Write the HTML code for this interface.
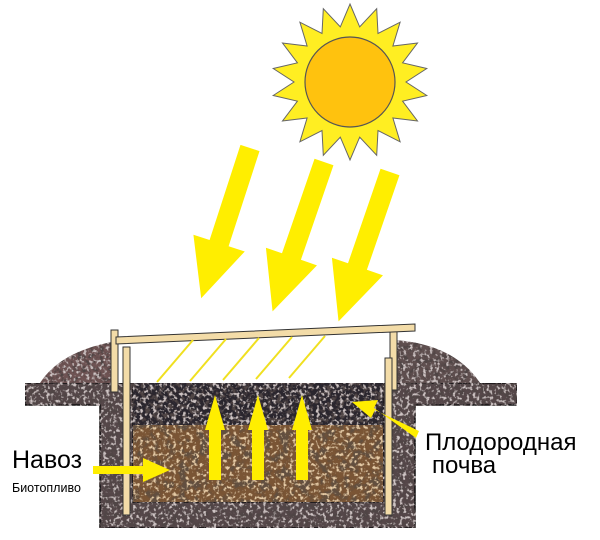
<!DOCTYPE html>
<html><head><meta charset="utf-8"><style>
html,body{margin:0;padding:0;background:#fff;width:600px;height:540px;overflow:hidden}
svg{display:block}
text{font-family:"Liberation Sans",sans-serif}
</style></head><body>
<svg width="600" height="540" viewBox="0 0 600 540">
<defs>
<filter id="tx" x="0" y="0" width="100%" height="100%">
<feTurbulence type="fractalNoise" baseFrequency="0.22" numOctaves="2" seed="3" result="n"/>
<feColorMatrix in="n" type="matrix" values="0 0 0 0 0.08  0 0 0 0 0.06  0 0 0 0 0.06  0 0 0 -5 2.6" result="m"/>
<feComposite in="m" in2="SourceGraphic" operator="in" result="d"/>
<feTurbulence type="fractalNoise" baseFrequency="0.3" numOctaves="2" seed="9" result="n2"/>
<feColorMatrix in="n2" type="matrix" values="0 0 0 0 0.62  0 0 0 0 0.55  0 0 0 0 0.55  0 0 0 -5 2.3" result="m2"/>
<feComposite in="m2" in2="SourceGraphic" operator="in" result="d2"/>
<feMerge><feMergeNode in="SourceGraphic"/><feMergeNode in="d"/><feMergeNode in="d2"/></feMerge>
</filter>
<filter id="tx2" x="0" y="0" width="100%" height="100%">
<feTurbulence type="fractalNoise" baseFrequency="0.1" numOctaves="3" seed="5" result="n"/>
<feColorMatrix in="n" type="matrix" values="0 0 0 0 0.12  0 0 0 0 0.08  0 0 0 0 0.05  0 0 0 -5 2.7" result="m"/>
<feComposite in="m" in2="SourceGraphic" operator="in" result="d"/>
<feTurbulence type="fractalNoise" baseFrequency="0.3" numOctaves="2" seed="2" result="n2"/>
<feColorMatrix in="n2" type="matrix" values="0 0 0 0 0.8  0 0 0 0 0.6  0 0 0 0 0.38  0 0 0 -5 2.3" result="m2"/>
<feComposite in="m2" in2="SourceGraphic" operator="in" result="d2"/>
<feMerge><feMergeNode in="SourceGraphic"/><feMergeNode in="d"/><feMergeNode in="d2"/></feMerge>
</filter>
<g id="sa"><polygon points="-10,0 10,0 10,100 27,100 0,158 -27,100 -10,100"/></g>
</defs>
<!-- mounds -->
<path d="M40,383 Q60,352 112,342 L112,383 Z" fill="#6e5352" filter="url(#tx)"/>
<path d="M396,340 Q455,345 480,383 L396,383 Z" fill="#5e5050" filter="url(#tx)"/>
<!-- ground -->
<path d="M25,383 L133,383 L133,502 L383,502 L383,383 L517,383 L517,405 L415,405 L415,528 L100,528 L100,405 L25,405 Z" fill="#54474a" stroke="#111" stroke-width="1.5" filter="url(#tx)"/>
<rect x="133" y="383" width="250" height="42" fill="#2a282f" filter="url(#tx)"/>
<rect x="133" y="425" width="250" height="77" fill="#7a5434" filter="url(#tx2)"/>
<!-- posts -->
<rect x="111" y="330" width="7" height="62" fill="#f3dca8" stroke="#333" stroke-width="1"/>
<rect x="123" y="347" width="7" height="168" fill="#f3dca8" stroke="#333" stroke-width="1"/>
<rect x="390" y="327" width="7" height="63" fill="#f3dca8" stroke="#333" stroke-width="1"/>
<rect x="385" y="358" width="7" height="157" fill="#f3dca8" stroke="#333" stroke-width="1"/>
<polygon points="116,337 415,324 415,331 116,344" fill="#f3dca8" stroke="#333" stroke-width="1"/>
<!-- small arrows -->
<g stroke="#f0e020" stroke-width="2" fill="none">
<line x1="193" y1="340" x2="157" y2="382"/><line x1="226" y1="339" x2="190" y2="381"/>
<line x1="259" y1="338" x2="223" y2="380"/><line x1="292" y1="337" x2="256" y2="379"/>
<line x1="325" y1="336" x2="289" y2="378"/>
</g>
<!-- sun -->
<g transform="translate(350,82)">
<polygon id="rays" fill="#ffee22" stroke="#666" stroke-width="1" points=""/>
<circle r="45" fill="#ffc20e" stroke="#555" stroke-width="1.2"/>
</g>
<!-- big arrows -->
<g fill="#ffee00">
<use href="#sa" transform="translate(250,148) rotate(18)"/>
<use href="#sa" transform="translate(324,162) rotate(19)"/>
<use href="#sa" transform="translate(390,172) rotate(19)"/>
<polygon points="209,480 221,480 221,430 225,430 215,395 205,430 209,430"/>
<polygon points="252,480 264,480 264,430 268,430 258,395 248,430 252,430"/>
<polygon points="296,480 308,480 308,430 312,430 302,395 292,430 296,430"/>
<polygon points="93,466 143,466 143,458 170,470 143,482 143,474 93,474"/>
<polygon points="419,431 375,410 371,418 352,402 378,400 374,408 416,438"/>
</g>
<text x="12" y="468" font-size="25">Навоз</text>
<text x="12" y="492" font-size="12.5">Биотопливо</text>
<text x="425" y="450" font-size="24">Плодородная</text>
<text x="432" y="473" font-size="24">почва</text>
</svg>
<script>
var p=[],n=18;for(var i=0;i<2*n;i++){var a=i*Math.PI/n-Math.PI/2,r=i%2?56:78;p.push((r*Math.cos(a)).toFixed(1)+","+(r*Math.sin(a)).toFixed(1));}
document.getElementById('rays').setAttribute('points',p.join(' '));
</script>
</body></html>
